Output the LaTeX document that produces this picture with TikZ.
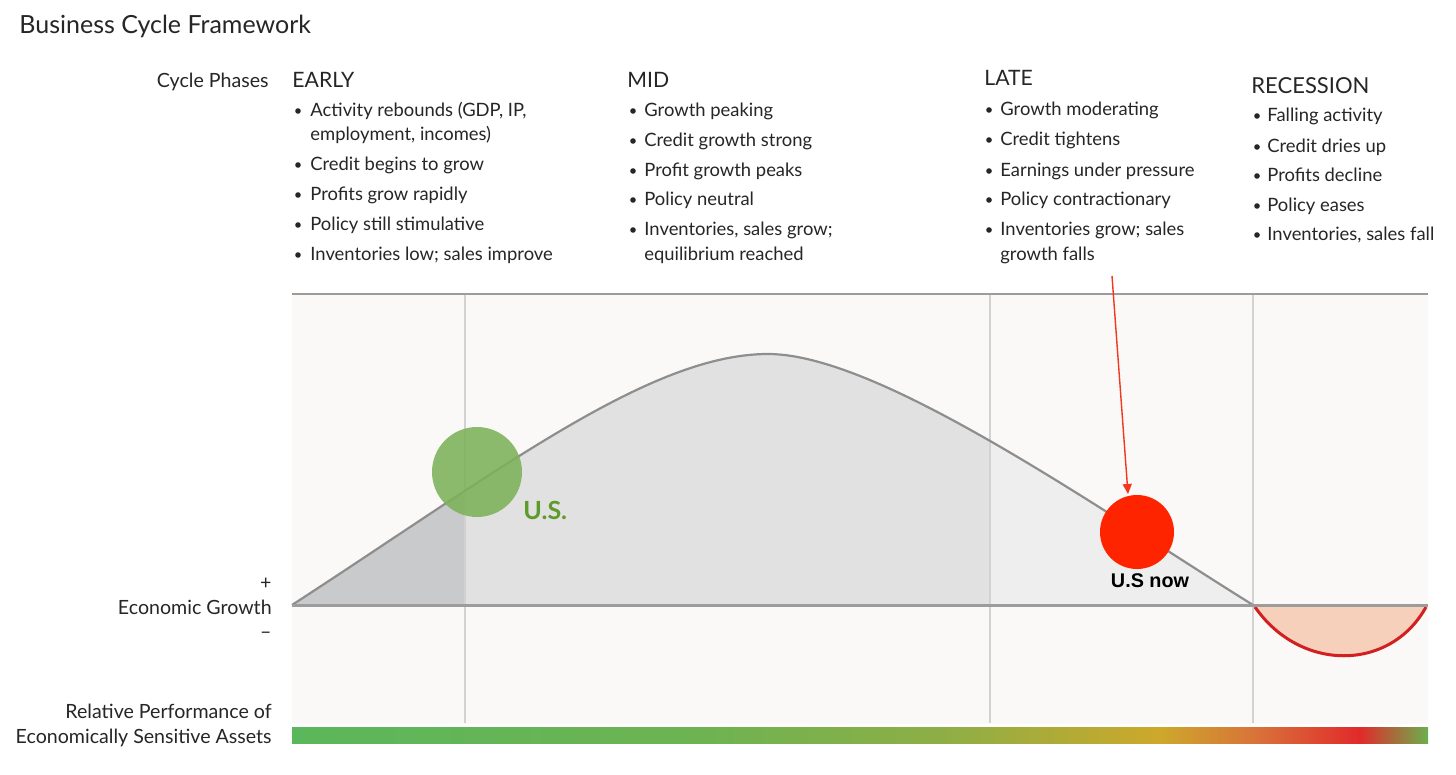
\documentclass[tikz,border=0pt]{standalone}
\usepackage{fontspec}
\setmainfont{Lato}
\newfontfamily\arialfont{Liberation Sans}
\usetikzlibrary{arrows.meta}
\definecolor{txt}{HTML}{262626}
\definecolor{bgc}{HTML}{FAF9F7}
\definecolor{vline}{HTML}{D2D2D2}
\definecolor{hline}{HTML}{9C9C9C}
\definecolor{fillA}{HTML}{C9CACC}
\definecolor{fillB}{HTML}{E1E1E1}
\definecolor{fillC}{HTML}{EEEEEE}
\definecolor{curvec}{HTML}{8E8E8E}
\definecolor{usgreen}{HTML}{7DB259}
\definecolor{usgreentxt}{HTML}{5E9B2C}
\definecolor{usred}{HTML}{FF2400}
\definecolor{arrred}{HTML}{F2361F}
\definecolor{recfill}{HTML}{F7D0BC}
\definecolor{recline}{HTML}{D21F1F}
\definecolor{g1}{HTML}{5BB75B}
\definecolor{g2}{HTML}{6DB352}
\definecolor{g3}{HTML}{8FAE45}
\definecolor{g4}{HTML}{CDA82A}
\definecolor{g5}{HTML}{D9703A}
\definecolor{g6}{HTML}{E12A2A}
\definecolor{g7}{HTML}{6AB04E}
\tikzset{
  txtlbl/.style={font=\fontsize{9.2}{10}\selectfont, text=txt, inner sep=0pt, anchor=base west},
  rlbl/.style={txtlbl, font=\fontsize{9.8}{11}\selectfont, anchor=base east},
  phasehdr/.style={font=\fontsize{10.6}{12}\selectfont, text=txt, inner sep=0pt, anchor=base west},
  bulletdot/.style={fill=txt},
}
\newcommand{\bdot}[2]{\fill[bulletdot] (#1,#2) circle (2.8);}
\begin{document}
\begin{tikzpicture}[x=0.5pt,y=-0.5pt]
\useasboundingbox (0,0) rectangle (1456,775);
\fill[white] (0,0) rectangle (1456,775);

% title
\node[phasehdr, font=\fontsize{12.5}{14}\selectfont] (title) at (19,34) {Business Cycle Framework};

% left labels
\node[rlbl] (cyclephases) at (269,88) {Cycle Phases};
\node[rlbl] (plus) at (272,589) {+};
\node[rlbl] (econgrowth) at (272,614) {Economic Growth};
\node[rlbl] (minus) at (272,638) {\textendash};
\node[rlbl] (relperf1) at (272,718) {Relative Performance of};
\node[rlbl] (relperf2) at (272,743) {Economically Sensitive Assets};

% phase headers
\node[phasehdr] (early) at (292,88) {EARLY};
\node[phasehdr] (mid) at (627,88) {MID};
\node[phasehdr] (late) at (984,86) {LATE};
\node[phasehdr, font=\fontsize{11}{12}\selectfont] (recession) at (1251,94) {RECESSION};

% EARLY bullets
\bdot{298}{111}\node[txtlbl] (e1) at (310,117) {Activity rebounds (GDP, IP,};
\node[txtlbl] (e1b) at (310,141) {employment, incomes)};
\bdot{298}{165}\node[txtlbl] (e2) at (310,171) {Credit begins to grow};
\bdot{298}{195}\node[txtlbl] (e3) at (310,201) {Profits grow rapidly};
\bdot{298}{225}\node[txtlbl] (e4) at (310,231) {Policy still stimulative};
\bdot{298}{255}\node[txtlbl] (e5) at (310,261) {Inventories low; sales improve};

% MID bullets
\bdot{633}{111}\node[txtlbl] (m1) at (644,117) {Growth peaking};
\bdot{633}{141}\node[txtlbl] (m2) at (644,147) {Credit growth strong};
\bdot{633}{171}\node[txtlbl] (m3) at (644,177) {Profit growth peaks};
\bdot{633}{200}\node[txtlbl] (m4) at (644,206) {Policy neutral};
\bdot{633}{230}\node[txtlbl] (m5) at (644,236) {Inventories, sales grow;};
\node[txtlbl] (m5b) at (644,261) {equilibrium reached};

% LATE bullets
\bdot{989}{110}\node[txtlbl] (l1) at (1000,116) {Growth moderating};
\bdot{989}{140}\node[txtlbl] (l2) at (1000,146) {Credit tightens};
\bdot{989}{171}\node[txtlbl] (l3) at (1000,177) {Earnings under pressure};
\bdot{989}{200}\node[txtlbl] (l4) at (1000,206) {Policy contractionary};
\bdot{989}{230}\node[txtlbl] (l5) at (1000,236) {Inventories grow; sales};
\node[txtlbl] (l5b) at (1000,261) {growth falls};

% RECESSION bullets
\bdot{1257}{116}\node[txtlbl] (r1) at (1267,122) {Falling activity};
\bdot{1257}{147}\node[txtlbl] (r2) at (1267,153) {Credit dries up};
\bdot{1257}{176}\node[txtlbl] (r3) at (1267,182) {Profits decline};
\bdot{1257}{206}\node[txtlbl] (r4) at (1267,212) {Policy eases};
\bdot{1257}{235}\node[txtlbl] (r5) at (1267,241) {Inventories, sales fall};

% chart background
\fill[bgc] (292,294) rectangle (1428,724);

% curve fills
\def\curvepath{(292,605) .. controls (500,470) and (650,354) .. (768,354) .. controls (880,354) and (1100,510) .. (1253,605) -- cycle}
\begin{scope}\clip (292,280) rectangle (465,606); \fill[fillA] \curvepath; \end{scope}
\begin{scope}\clip (465,280) rectangle (990,606); \fill[fillB] \curvepath; \end{scope}
\begin{scope}\clip (990,280) rectangle (1253,606); \fill[fillC] \curvepath; \end{scope}

% vertical lines
\foreach \xx in {465,990,1253} \draw[vline, line width=0.8pt] (\xx,294) -- (\xx,723);

% recession bowl
\filldraw[fill=recfill, draw=recline, line width=1.5pt] (1255,607) .. controls (1300,672) and (1390,672) .. (1426,607);

% curve stroke
\draw[curvec, line width=1.1pt] (292,605) .. controls (500,470) and (650,354) .. (768,354) .. controls (880,354) and (1100,510) .. (1253,605);

% baseline and top line
\draw[hline, line width=1.5pt] (292,605) -- (1428,605);
\draw[hline, line width=1pt] (292,294) -- (1428,294);

% U.S. circle
\node[circle, fill=usgreen, fill opacity=0.88, minimum size=45pt, inner sep=0pt] (uscircle) at (477,472) {};
\node[font=\bfseries\fontsize{12.5}{14}\selectfont, text=usgreentxt, inner sep=0pt, anchor=base west] (uslabel) at (523,519) {U.S.};

% U.S now circle
\node[circle, fill=usred, minimum size=37pt, inner sep=0pt] (usnow) at (1137,532) {};
\node[font=\arialfont\bfseries\fontsize{9.9}{12}\selectfont, text=black, inner sep=0pt, anchor=base] (usnowlabel) at (1150,587) {U.S now};

% arrow
\coordinate (arrtail) at (1112,276);
\coordinate (arrtip) at (1128,494);
\draw[arrred, line width=0.7pt, -{Triangle[length=5pt,width=4.5pt]}] (arrtail) -- (arrtip);

% gradient bar
\shade[left color=g1, right color=g2] (292,727) rectangle (700,743);
\shade[left color=g2, right color=g3] (699.5,727) rectangle (950,743);
\shade[left color=g3, right color=g4] (949.5,727) rectangle (1160,743);
\shade[left color=g4, right color=g5] (1159.5,727) rectangle (1260,743);
\shade[left color=g5, right color=g6] (1259.5,727) rectangle (1360,743);
\shade[left color=g6, right color=g7] (1359.5,727) rectangle (1428,743);
\end{tikzpicture}
\end{document}
